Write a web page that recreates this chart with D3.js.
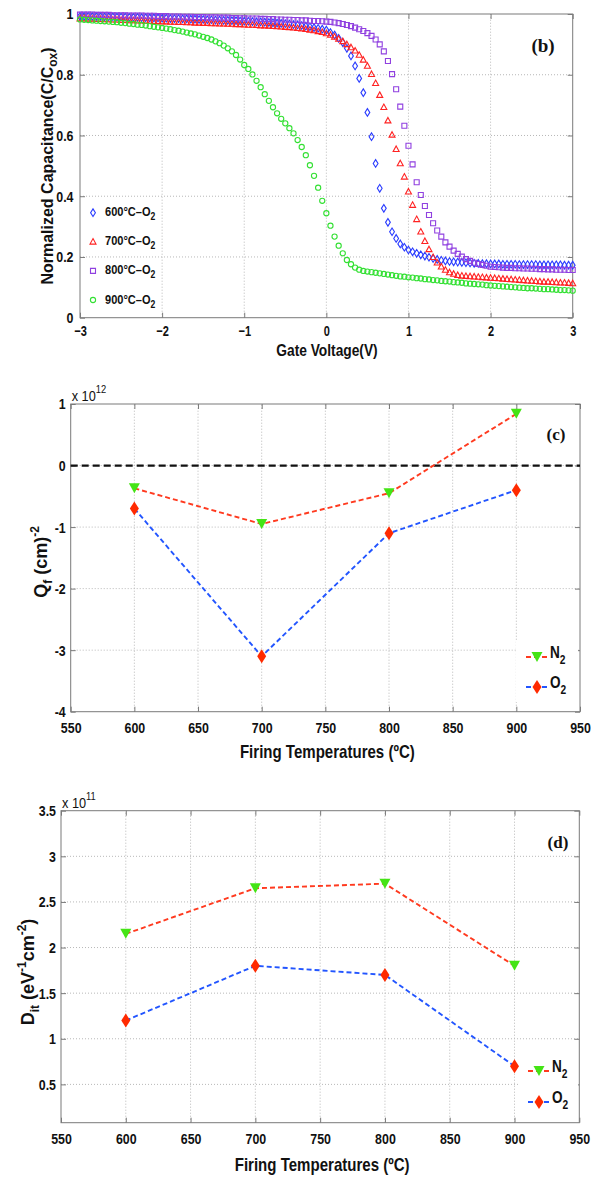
<!DOCTYPE html>
<html><head><meta charset="utf-8">
<script src="https://cdn.jsdelivr.net/npm/d3@7"></script>
<style>
body{margin:0;background:#fff}
svg{display:block}
.grid{stroke:#b8b8b8;stroke-width:1;stroke-dasharray:1,2;fill:none}
</style>
</head><body>
<svg id="chart" width="593" height="1181"></svg>
<script>
// ---------- DATA: panel (b) C-V curves ----------
const voltage=[-3,-2.95,-2.9,-2.85,-2.8,-2.75,-2.7,-2.65,-2.6,-2.55,-2.5,-2.45,-2.4,-2.35,-2.3,-2.25,-2.2,-2.15,-2.1,-2.05,
-2,-1.95,-1.9,-1.85,-1.8,-1.75,-1.7,-1.65,-1.6,-1.55,-1.5,-1.45,-1.4,-1.35,-1.3,-1.25,-1.2,-1.15,-1.1,-1.05,
-1,-0.95,-0.9,-0.85,-0.8,-0.75,-0.7,-0.65,-0.6,-0.55,-0.5,-0.45,-0.4,-0.35,-0.3,-0.25,-0.2,-0.15,-0.1,-0.05,
0,0.05,0.1,0.15,0.2,0.25,0.3,0.35,0.4,0.45,0.5,0.55,0.6,0.65,0.7,0.75,0.8,0.85,0.9,0.95,
1,1.05,1.1,1.15,1.2,1.25,1.3,1.35,1.4,1.45,1.5,1.55,1.6,1.65,1.7,1.75,1.8,1.85,1.9,1.95,
2,2.05,2.1,2.15,2.2,2.25,2.3,2.35,2.4,2.45,2.5,2.55,2.6,2.65,2.7,2.75,2.8,2.85,2.9,2.95,3];
const cap600=[0.993,0.993,0.993,0.992,0.992,0.992,0.991,0.991,0.991,0.990,0.990,0.990,0.989,0.989,0.989,0.988,0.988,0.987,0.987,0.987,
0.986,0.986,0.985,0.985,0.985,0.984,0.984,0.983,0.983,0.982,0.982,0.981,0.981,0.980,0.980,0.979,0.979,0.978,0.978,0.977,
0.976,0.976,0.975,0.974,0.974,0.973,0.972,0.971,0.970,0.969,0.968,0.967,0.965,0.964,0.962,0.960,0.958,0.955,0.953,0.950,
0.947,0.939,0.931,0.920,0.906,0.887,0.862,0.829,0.788,0.741,0.676,0.596,0.508,0.426,0.360,0.314,0.283,0.261,0.243,0.232,
0.223,0.217,0.212,0.207,0.203,0.199,0.195,0.192,0.189,0.187,0.185,0.184,0.183,0.182,0.181,0.180,0.179,0.179,0.178,0.178,
0.177,0.177,0.177,0.176,0.176,0.176,0.176,0.175,0.175,0.175,0.175,0.175,0.174,0.174,0.174,0.174,0.174,0.174,0.173,0.173,0.173];
const cap700=[0.985,0.985,0.984,0.984,0.983,0.983,0.982,0.982,0.981,0.981,0.980,0.980,0.979,0.979,0.978,0.978,0.977,0.977,0.976,0.976,
0.975,0.975,0.974,0.974,0.973,0.973,0.972,0.972,0.971,0.971,0.970,0.970,0.969,0.969,0.968,0.968,0.967,0.967,0.966,0.966,
0.965,0.964,0.964,0.963,0.962,0.962,0.961,0.960,0.959,0.958,0.957,0.956,0.955,0.953,0.952,0.950,0.948,0.946,0.943,0.940,
0.936,0.931,0.925,0.918,0.910,0.900,0.890,0.879,0.865,0.849,0.829,0.802,0.772,0.733,0.693,0.649,0.602,0.555,0.508,0.464,
0.415,0.371,0.324,0.283,0.252,0.225,0.199,0.181,0.168,0.157,0.149,0.144,0.140,0.138,0.137,0.136,0.135,0.134,0.133,0.132,
0.131,0.130,0.129,0.128,0.127,0.126,0.125,0.124,0.123,0.122,0.121,0.120,0.119,0.118,0.118,0.117,0.116,0.115,0.115,0.114,0.113];
const cap800=[0.998,0.998,0.998,0.998,0.997,0.997,0.997,0.997,0.996,0.996,0.996,0.996,0.995,0.995,0.995,0.995,0.994,0.994,0.994,0.993,
0.993,0.993,0.992,0.992,0.992,0.991,0.991,0.991,0.990,0.990,0.990,0.989,0.989,0.989,0.988,0.988,0.988,0.987,0.987,0.986,
0.986,0.985,0.985,0.985,0.984,0.984,0.983,0.983,0.982,0.982,0.981,0.981,0.980,0.980,0.979,0.979,0.978,0.977,0.977,0.976,
0.975,0.974,0.972,0.970,0.967,0.964,0.960,0.955,0.950,0.944,0.937,0.928,0.916,0.900,0.877,0.845,0.802,0.752,0.695,0.632,
0.566,0.505,0.446,0.404,0.368,0.338,0.311,0.287,0.267,0.248,0.234,0.221,0.210,0.201,0.193,0.187,0.181,0.177,0.174,0.171,
0.168,0.167,0.166,0.165,0.164,0.164,0.163,0.163,0.162,0.162,0.161,0.161,0.160,0.160,0.159,0.159,0.158,0.158,0.158,0.157,0.157];
const cap900=[0.982,0.981,0.980,0.979,0.978,0.977,0.976,0.975,0.974,0.973,0.971,0.970,0.968,0.967,0.965,0.964,0.962,0.960,0.958,0.956,
0.954,0.952,0.950,0.947,0.945,0.942,0.939,0.936,0.933,0.929,0.925,0.921,0.916,0.910,0.904,0.896,0.887,0.877,0.865,0.850,
0.832,0.819,0.801,0.780,0.759,0.736,0.714,0.693,0.673,0.655,0.640,0.624,0.607,0.585,0.562,0.535,0.502,0.467,0.428,0.385,
0.344,0.303,0.267,0.237,0.212,0.190,0.176,0.165,0.158,0.154,0.152,0.150,0.148,0.146,0.144,0.142,0.140,0.138,0.136,0.135,
0.133,0.132,0.130,0.129,0.127,0.126,0.124,0.123,0.121,0.120,0.119,0.117,0.116,0.115,0.113,0.112,0.111,0.110,0.109,0.107,
0.106,0.105,0.104,0.103,0.102,0.101,0.100,0.099,0.098,0.097,0.097,0.096,0.095,0.094,0.094,0.093,0.092,0.091,0.091,0.090,0.089];
const cvLabels=["600°C–O","700°C–O","800°C–O","900°C–O"];
const cvXTicks=[-3,-2,-1,0,1,2,3];
const cvYTicks=[0,0.2,0.4,0.6,0.8,1];

// ---------- DATA: panels (c) and (d) ----------
const temps=[600,700,800,900];
const qfN2=[-0.37,-0.95,-0.45,0.84];
const qfO2=[-0.70,-3.10,-1.10,-0.40];
const ditN2=[2.15,2.65,2.70,1.80];
const ditO2=[1.20,1.80,1.70,0.70];
const tempTicks=[550,600,650,700,750,800,850,900,950];
const qfTicks=[-4,-3,-2,-1,0,1];
const ditTicks=[0.5,1,1.5,2,2.5,3,3.5];
const gasLabels=["N","O"];

// ---------- STYLE ----------
const SANS="'Liberation Sans',Arial,sans-serif";
const SERIF="'Liberation Serif','Times New Roman',serif";
const svg=d3.select("#chart");

// condense text horizontally (emulates a narrow face)
function narrow(sel,k){
  sel.each(function(){
    const t=d3.select(this);
    const x=+t.attr("x")||0, y=+t.attr("y")||0;
    t.attr("x",0).attr("y",0).attr("transform",`translate(${x},${y}) scale(${k},1)`);
  });
  return sel;
}
function ntext(g,x,y,str,fs,k,o={}){
  const t=g.append("text").attr("x",x).attr("y",y).attr("font-family",SANS)
    .attr("font-weight",o.weight||"bold").attr("font-size",fs).attr("fill","#111")
    .attr("text-anchor",o.anchor||"start").text(str);
  narrow(t,k);
  return t;
}

function frame(g,x,y,xt,yt,o){
  const [x0,x1]=x.range(),[y0,y1]=y.range();
  const xd=x.domain(),yd=y.domain();
  g.append("g").selectAll("line").data(xt.filter(t=>t>xd[0]&&t<xd[1])).join("line").attr("class","grid")
    .attr("x1",d=>x(d)).attr("x2",d=>x(d)).attr("y1",y0).attr("y2",y1);
  g.append("g").selectAll("line").data(yt.filter(t=>t>Math.min(...yd)&&t<Math.max(...yd))).join("line").attr("class","grid")
    .attr("y1",d=>y(d)).attr("y2",d=>y(d)).attr("x1",x0).attr("x2",x1);
  const ax=(gen,tr,lab,fs,k)=>{
    const a=g.append("g").attr("transform",tr).call(gen);
    a.select(".domain").remove();
    a.selectAll(".tick line").attr("stroke","#7a7a7a");
    if(!lab) a.selectAll("text").remove();
    else{
      a.selectAll("text").attr("font-family",SANS).attr("font-weight","bold").attr("font-size",fs).attr("fill","#111");
      narrow(a.selectAll("text"),k);
    }
    return a;
  };
  ax(d3.axisBottom(x).tickValues(xt).tickSize(-5).tickPadding(o.xpad||7).tickFormat(o.xf),`translate(0,${y0})`,true,o.xfs||15,o.xk||0.8);
  ax(d3.axisLeft(y).tickValues(yt).tickSize(-5).tickPadding(o.ypad||5).tickFormat(o.yf),`translate(${x0},0)`,true,o.fs||15,0.8);
  ax(d3.axisTop(x).tickValues(xt).tickSize(-5),`translate(0,${y1})`,false);
  ax(d3.axisRight(y).tickValues(yt).tickSize(-5),`translate(${x1},0)`,false);
  g.append("rect").attr("x",x0).attr("y",y1).attr("width",x1-x0).attr("height",y0-y1)
    .attr("fill","none").attr("stroke","#7a7a7a").attr("stroke-width",1);
}

// ================= PANEL (b) =================
{
  const x=d3.scaleLinear().domain([-3,3]).range([80,572.7]);
  const y=d3.scaleLinear().domain([0,1]).range([317.7,14]);
  const g=svg.append("g");
  frame(g,x,y,cvXTicks,cvYTicks,{fs:15.5,xfs:14.5,xk:0.76,xpad:8,ypad:6.5,
    xf:d=>d<0?"−"+Math.abs(d):String(d), yf:d=>String(d)});
  const series=[
    {v:cap600,color:"#2a3cff",shape:"diamond"},
    {v:cap700,color:"#ff2222",shape:"triangle"},
    {v:cap800,color:"#9040e0",shape:"square"},
    {v:cap900,color:"#33e033",shape:"circle"}];
  const path={
    diamond:"M0,-3.8L2.4,0L0,3.8L-2.4,0Z",
    triangle:"M0,-3.2L3,2.3L-3,2.3Z",
    square:"M-2.5,-2.5H2.5V2.5H-2.5Z",
    circle:"M2.6,0A2.6,2.6 0 1 1 -2.6,0A2.6,2.6 0 1 1 2.6,0Z"};
  series.forEach(s=>{
    g.append("g").selectAll("path").data(voltage.map((v,i)=>[v,s.v[i]])).join("path")
      .attr("d",path[s.shape]).attr("transform",d=>`translate(${x(d[0])},${y(d[1])})`)
      .attr("fill","none").attr("stroke",s.color).attr("stroke-width",1.1);
  });
  // legend
  series.forEach((s,i)=>{
    const cy=212.7+i*29.1;
    g.append("path").attr("d",path[s.shape]).attr("transform",`translate(93,${cy})`)
      .attr("fill","none").attr("stroke",s.color).attr("stroke-width",1.1);
    const t=ntext(g,105,cy+3.5,cvLabels[i],13.5,0.82);
    t.append("tspan").attr("dy",4).attr("font-size",10.5).text("2");
  });
  ntext(g,327,355.5,"Gate Voltage(V)",17,0.81,{anchor:"middle"});
  const yt=g.append("text").attr("transform","translate(53,166) rotate(-90)").attr("text-anchor","middle")
    .attr("font-family",SANS).attr("font-weight","bold").attr("font-size",16).attr("fill","#111").text("Normalized Capacitance(C/C");
  yt.append("tspan").attr("dy",4).attr("font-size",12).text("ox");
  yt.append("tspan").attr("dy",-4).text(")");
  g.append("text").attr("x",543).attr("y",52).attr("text-anchor","middle").attr("font-family",SERIF)
    .attr("font-weight","bold").attr("font-size",19).attr("fill","#111").text("(b)");
}

// ======== shared for (c),(d) ========
const triDown="M-5.5,-5L5.5,-5L0,5Z";
const diam="M0,-7L4.5,0L0,7L-4.5,0Z";
const N2C={line:"#ff3a1f",fill:"#44e415"}, O2C={line:"#2255ff",fill:"#ff2a00"};

function linePanel(top,bot,left,right,yDom,yt,nData,oData,yf,opt){
  const x=d3.scaleLinear().domain([550,950]).range([left,right]);
  const y=d3.scaleLinear().domain(yDom).range([bot,top]);
  const g=svg.append("g");
  frame(g,x,y,tempTicks,yt,{fs:15.5,xfs:15.5,xk:0.8,xpad:10,ypad:5,xf:d=>String(d),yf});
  if(opt.zero){
    g.append("line").attr("x1",left).attr("x2",right).attr("y1",y(0)).attr("y2",y(0))
      .attr("stroke","#111").attr("stroke-width",2.2).attr("stroke-dasharray","7,4");
  }
  const ln=d3.line().x(d=>x(d[0])).y(d=>y(d[1]));
  const sets=[{d:nData,c:N2C,m:triDown},{d:oData,c:O2C,m:diam}];
  sets.forEach(s=>{
    const pts=temps.map((t,i)=>[t,s.d[i]]);
    g.append("path").datum(pts).attr("d",ln).attr("fill","none").attr("stroke",s.c.line)
      .attr("stroke-width",1.9).attr("stroke-dasharray","5,3");
  });
  sets.forEach(s=>{
    g.append("g").selectAll("path").data(temps.map((t,i)=>[t,s.d[i]])).join("path")
      .attr("d",s.m).attr("transform",d=>`translate(${x(d[0])},${y(d[1])})`).attr("fill",s.c.fill);
  });
  // legend
  const L=opt.leg;
  g.append("rect").attr("x",L.x).attr("y",L.y).attr("width",L.w).attr("height",L.h).attr("fill","#fff");
  sets.forEach((s,i)=>{
    const cy=L.r0+i*L.dy;
    g.append("line").attr("x1",L.lx).attr("x2",L.lx+22).attr("y1",cy).attr("y2",cy).attr("stroke",s.c.line)
      .attr("stroke-width",1.8).attr("stroke-dasharray","5,3");
    g.append("path").attr("d",s.m).attr("transform",`translate(${L.lx+11},${cy})`).attr("fill",s.c.fill);
    const t=ntext(g,L.lx+24,cy+1,gasLabels[i],16,0.85);
    t.append("tspan").attr("dy",6).attr("font-size",12).text("2");
  });
  ntext(g,(left+right)/2+2,opt.xtY,"Firing Temperatures (ºC)",17.5,0.86,{anchor:"middle"});
  // exponent
  const ex=ntext(g,left+1,top-3,"x 10",15,0.85,{weight:"normal"});
  ex.append("tspan").attr("dy",-8).attr("font-size",11).text(opt.exp);
  g.append("text").attr("x",opt.tag[0]).attr("y",opt.tag[1]).attr("text-anchor","middle").attr("font-family",SERIF)
    .attr("font-weight","bold").attr("font-size",17).attr("fill","#111").text(opt.tag[2]);
  return g;
}

// ================= PANEL (c) =================
{
  const g=linePanel(404,711.7,70.7,580,[-4,1],qfTicks,qfN2,qfO2,d=>String(d),
    {zero:true,xtY:758,exp:"12",tag:[556,440,"(c)"],
     leg:{x:516,y:640,w:62,h:62,lx:526,r0:657,dy:30}});
  const t=g.append("text").attr("transform","translate(47,562) rotate(-90)").attr("text-anchor","middle")
    .attr("font-family",SANS).attr("font-weight","bold").attr("font-size",18).attr("fill","#111").text("Q");
  t.append("tspan").attr("dy",5).attr("font-size",12).text("f");
  t.append("tspan").attr("dy",-5).text(" (cm)");
  t.append("tspan").attr("dy",-8).attr("font-size",12).text("-2");
}

// ================= PANEL (d) =================
{
  const g=linePanel(810.7,1122.7,61,579.3,[0.08,3.5],ditTicks,ditN2,ditO2,d=>String(d),
    {zero:false,xtY:1171,exp:"11",tag:[558,848,"(d)"],
     leg:{x:519,y:1055,w:59,h:64,lx:528,r0:1071,dy:31}});
  const t=g.append("text").attr("transform","translate(34,972) rotate(-90)").attr("text-anchor","middle")
    .attr("font-family",SANS).attr("font-weight","bold").attr("font-size",18).attr("fill","#111").text("D");
  t.append("tspan").attr("dy",5).attr("font-size",12).text("it");
  t.append("tspan").attr("dy",-5).text(" (eV");
  t.append("tspan").attr("dy",-8).attr("font-size",12).text("-1");
  t.append("tspan").attr("dy",8).text("cm");
  t.append("tspan").attr("dy",-8).attr("font-size",12).text("-2");
  t.append("tspan").attr("dy",8).text(")");
}
</script>
</body></html>
